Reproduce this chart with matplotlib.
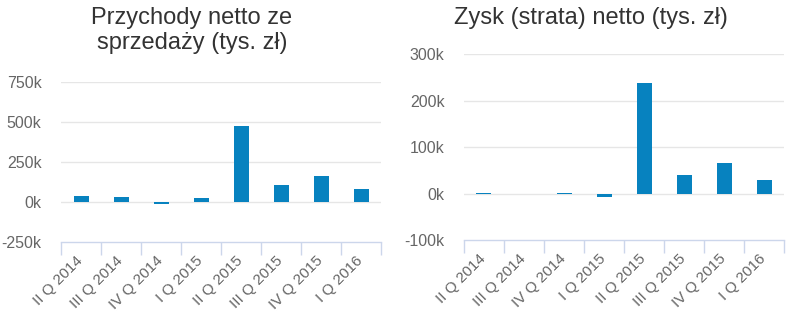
import matplotlib
matplotlib.use("Agg")
import matplotlib.pyplot as plt
from matplotlib.ticker import FuncFormatter

categories = ["II Q 2014", "III Q 2014", "IV Q 2014", "I Q 2015",
              "II Q 2015", "III Q 2015", "IV Q 2015", "I Q 2016"]
revenue = [40, 32, -15, 23, 477, 106, 164, 81]        # tys. zł
profit = [1.5, 0, 1, -7, 238, 39, 65, 30]            # tys. zł
rev_ticks = [-250, 0, 250, 500, 750]
prof_ticks = [-100, 0, 100, 200, 300]

plt.rcParams['font.family'] = ['Liberation Sans', 'DejaVu Sans']

BAR = '#0782bf'
GRID = '#e6e6e6'
AXIS = '#ccd6eb'
TXT = '#666666'

fig = plt.figure(figsize=(8, 3.16), dpi=100)

def draw(rect, values, ticks, title, title_x, title_y):
    ax = fig.add_axes(rect)
    x = list(range(len(categories)))
    ax.bar(x, [v * 1000 for v in values], width=0.375, color=BAR, zorder=3)
    ax.set_xlim(-0.5, len(categories) - 0.5)
    ax.set_ylim(ticks[0] * 1000, ticks[-1] * 1000)
    ax.set_yticks([t * 1000 for t in ticks])
    ax.yaxis.set_major_formatter(FuncFormatter(lambda v, p: f"{int(round(v / 1000))}k"))
    ax.tick_params(axis='y', length=0, pad=14, labelsize=11.5, labelcolor=TXT)
    for t in ticks[1:]:
        ax.axhline(t * 1000, color=GRID, lw=1, zorder=1)
    for s in ['top', 'right', 'left']:
        ax.spines[s].set_visible(False)
    ax.spines['bottom'].set_color(AXIS)
    ax.spines['bottom'].set_linewidth(1)
    ax.set_xticks(x)
    ax.set_xticklabels(categories, rotation=45, ha='right', va='center',
                       rotation_mode='anchor', fontsize=11, color=TXT)
    ax.tick_params(axis='x', which='major', length=0, pad=12)
    ax.set_xticks([i - 0.5 for i in range(len(categories) + 1)], minor=True)
    ax.tick_params(axis='x', which='minor', length=9, width=1, color=AXIS)
    fig.text(title_x, title_y, title, ha='center', va='top', fontsize=17,
             color='#333333', linespacing=1.2)
    return ax

draw([61 / 800, 74 / 316, 320 / 800, 160 / 316], revenue, rev_ticks,
     "Przychody netto ze\nsprzedaży (tys. zł)", 192 / 800, 0.978)
draw([464 / 800, 76 / 316, 320 / 800, 185.7 / 316], profit, prof_ticks,
     "Zysk (strata) netto (tys. zł)", 591 / 800, 0.978)

fig.savefig("out.png", dpi=100, facecolor='white')
